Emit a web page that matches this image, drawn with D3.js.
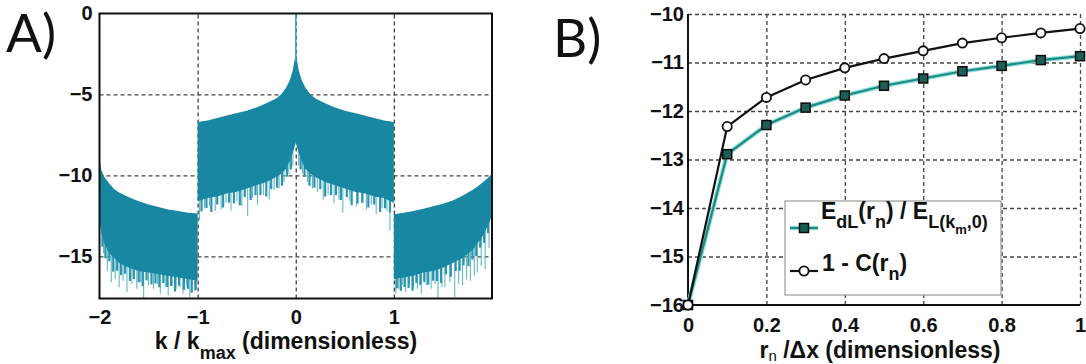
<!DOCTYPE html>
<html><head><meta charset="utf-8">
<script src="https://cdn.jsdelivr.net/npm/d3@7"></script>
<style>body{margin:0;background:#fff}svg{display:block}</style>
</head><body><svg id="c" width="1086" height="364"></svg>
<script>
// ---------- Panel A data (spectrum envelopes) ----------
const segLeftK     = [-2, -1.98, -1.95, -1.9, -1.85, -1.8, -1.7, -1.6, -1.5, -1.4, -1.3, -1.2, -1.1, -1.0];
const segLeftUpper = [-9.0, -9.7, -10.1, -10.5, -10.85, -11.05, -11.35, -11.6, -11.8, -11.95, -12.1, -12.2, -12.3, -12.35];
const segLeftLower = [-12.8, -13.6, -14.2, -14.8, -15.1, -15.4, -15.7, -15.9, -16.0, -16.1, -16.2, -16.3, -16.4, -16.5];

const segMidK     = [-1, -0.9, -0.8, -0.7, -0.6, -0.5, -0.4, -0.3, -0.2, -0.15, -0.1, -0.06, -0.03, -0.01, 0, 0.01, 0.03, 0.06, 0.1, 0.15, 0.2, 0.3, 0.4, 0.5, 0.6, 0.7, 0.8, 0.9, 1];
const segMidUpper = [-6.7, -6.6, -6.45, -6.3, -6.15, -6.0, -5.8, -5.55, -5.25, -5.0, -4.6, -4.1, -3.5, -2.8, -2.2, -2.8, -3.5, -4.1, -4.6, -5.0, -5.25, -5.55, -5.8, -6.0, -6.15, -6.3, -6.45, -6.6, -6.7];
const segMidLower = [-11.6, -11.4, -11.3, -11.1, -11.0, -10.8, -10.6, -10.4, -10.1, -9.9, -9.6, -9.1, -8.6, -8.2, -7.9, -8.2, -8.6, -9.1, -9.6, -9.9, -10.1, -10.4, -10.6, -10.8, -11.0, -11.1, -11.3, -11.4, -11.7];

const segRightK     = [1.0, 1.1, 1.2, 1.3, 1.4, 1.5, 1.6, 1.7, 1.8, 1.85, 1.9, 1.95, 2.0];
const segRightUpper = [-12.4, -12.3, -12.2, -12.05, -11.9, -11.75, -11.55, -11.25, -10.9, -10.7, -10.45, -10.2, -9.9];
const segRightLower = [-16.4, -16.3, -16.2, -16.0, -15.9, -15.7, -15.4, -15.1, -14.6, -14.2, -13.8, -13.2, -12.5];

const centralPeakK = 0, centralPeakValue = 0;

// deep light spikes
const spikeK   = [-1.96, -1.92, -1.88, -1.84, -1.8, -1.76, -1.72, -1.67, -1.62, -1.58, -1.55, -1.5, -1.45, -1.41, -1.38, -1.33, -1.3, -1.26, -1.22, -1.18, -1.15, -1.11, -1.08, -1.03,
                  -0.98, -0.93, -0.88, -0.82, -0.76, -0.71, -0.66, -0.6, -0.55, -0.49, -0.44, -0.39, -0.33, -0.27, -0.22, -0.17, -0.12, -0.07, -0.03,
                  0.03, 0.07, 0.12, 0.17, 0.22, 0.28, 0.33, 0.39, 0.44, 0.48, 0.55, 0.62, 0.67, 0.72, 0.77, 0.82, 0.88, 0.93, 0.96,
                  1.02, 1.05, 1.09, 1.12, 1.16, 1.2, 1.24, 1.28, 1.33, 1.38, 1.42, 1.45, 1.49, 1.52, 1.57, 1.62, 1.66, 1.7, 1.74, 1.78, 1.82, 1.85, 1.89, 1.93, 1.97];
const spikeMin = [-14.8, -15.9, -16.6, -16.4, -16.9, -16.5, -17.2, -16.7, -17.0, -16.6, -17.6, -16.8, -17.0, -16.7, -17.3, -16.9, -17.4, -16.8, -17.0, -16.9, -17.3, -16.8, -17.5, -17.1,
                  -12.75, -12.0, -11.9, -12.2, -12.1, -11.7, -12.2, -11.6, -11.9, -12.5, -11.4, -11.8, -11.2, -11.5, -10.9, -10.8, -10.4, -9.9, -9.4,
                  -9.4, -9.9, -10.4, -10.8, -11.0, -11.5, -11.2, -11.7, -11.5, -12.3, -11.6, -11.9, -11.7, -12.1, -11.8, -12.4, -12.0, -12.2, -13.4,
                  -17.3, -17.0, -16.8, -17.2, -16.7, -16.9, -17.0, -17.3, -16.8, -17.0, -16.7, -17.6, -16.9, -16.9, -16.6, -17.5, -16.7, -16.8, -16.4, -16.5, -16.2, -16.0, -15.6, -15.8, -14.5];
// short dark teeth along the lower edge (depth below envelope, in decades)
const toothK     = [-1.97, -1.94, -1.9, -1.86, -1.82, -1.78, -1.74, -1.69, -1.65, -1.6, -1.56, -1.52, -1.47, -1.43, -1.39, -1.35, -1.31, -1.27, -1.23, -1.19, -1.14, -1.1, -1.06, -1.02,
                    -0.96, -0.91, -0.86, -0.8, -0.74, -0.68, -0.63, -0.57, -0.52, -0.46, -0.41, -0.36, -0.3, -0.25, -0.19, -0.14, -0.09, -0.05,
                    0.05, 0.09, 0.14, 0.19, 0.25, 0.3, 0.36, 0.41, 0.46, 0.52, 0.57, 0.63, 0.68, 0.74, 0.8, 0.86, 0.91, 0.96,
                    1.03, 1.07, 1.11, 1.15, 1.19, 1.23, 1.27, 1.31, 1.35, 1.4, 1.44, 1.48, 1.53, 1.58, 1.63, 1.67, 1.71, 1.76, 1.8, 1.84, 1.88, 1.92, 1.96];
const toothDepth = [0.6, 0.8, 0.5, 0.9, 0.6, 0.7, 0.5, 0.8, 0.6, 0.7, 0.9, 0.5, 0.7, 0.6, 0.8, 0.5, 0.7, 0.6, 0.9, 0.5, 0.7, 0.6, 0.8, 0.6,
                    0.7, 0.6, 0.9, 0.5, 0.8, 0.6, 0.7, 0.9, 0.5, 0.8, 0.6, 0.7, 0.9, 0.6, 0.7, 0.8, 0.6, 0.7,
                    0.7, 0.6, 0.8, 0.7, 0.6, 0.9, 0.7, 0.6, 0.8, 0.5, 0.9, 0.7, 0.6, 0.8, 0.5, 0.9, 0.6, 0.7,
                    0.6, 0.8, 0.6, 0.7, 0.9, 0.5, 0.7, 0.6, 0.8, 0.6, 0.7, 0.9, 0.5, 0.8, 0.6, 0.7, 0.5, 0.8, 0.6, 0.7, 0.5, 0.6, 0.5];

const aXTicks = [-2, -1, 0, 1];
const aXGrid  = [-1, 0, 1];
const aYTicks = [0, -5, -10, -15];
const aYGrid  = [-5, -10, -15];

// ---------- Panel B data ----------
const rn        = [0, 0.1, 0.2, 0.3, 0.4, 0.5, 0.6, 0.7, 0.8, 0.9, 1.0];
const energyErr = [-16, -12.89, -12.29, -11.93, -11.68, -11.48, -11.33, -11.18, -11.07, -10.95, -10.87];
const oneMinusC = [-16, -12.32, -11.72, -11.36, -11.11, -10.92, -10.76, -10.60, -10.49, -10.39, -10.30];
const bXTicks = [0, 0.2, 0.4, 0.6, 0.8, 1];
const bXTickLabels = ["0", "0.2", "0.4", "0.6", "0.8", "1"];
const bYTicks = [-10, -11, -12, -13, -14, -15, -16];

// ---------- drawing ----------
const svg = d3.select("#c");
const FONT = "'Liberation Sans', Arial, Helvetica, sans-serif";
const teal = "#1787a2", tealLight = "#62b8ca";
const styleTicks = (sel, size) => sel.selectAll("text")
  .style("font-family", FONT).style("font-weight", "700").style("font-size", size + "px").attr("fill", "#111");

// Panel A scales
const xA = d3.scaleLinear().domain([-2, 2]).range([99.5, 492]);
const yA = d3.scaleLinear().domain([-17.6, 0]).range([298.5, 13.5]);
const gA = svg.append("g");

// grid A
gA.append("g").attr("transform", `translate(0,${yA(-17.6)})`)
  .call(d3.axisBottom(xA).tickValues(aXGrid).tickSize(-(yA(-17.6) - yA(0))).tickFormat(""))
  .call(g => g.select(".domain").remove())
  .selectAll("line").attr("stroke", "#444").attr("stroke-width", 1.3).attr("stroke-dasharray", "4,3");
gA.append("g").attr("transform", `translate(${xA(-2)},0)`)
  .call(d3.axisLeft(yA).tickValues(aYGrid).tickSize(-(xA(2) - xA(-2))).tickFormat(""))
  .call(g => g.select(".domain").remove())
  .selectAll("line").attr("stroke", "#444").attr("stroke-width", 1.3).attr("stroke-dasharray", "4,3");

// spectrum
const segs = [[segLeftK, segLeftUpper, segLeftLower], [segMidK, segMidUpper, segMidLower], [segRightK, segRightUpper, segRightLower]];
const lowerInterp = segs.map(s => d3.scaleLinear().domain(s[0]).range(s[2]).clamp(true));
const segIndex = k => (k < -1 ? 0 : (k <= 1 ? 1 : 2));
gA.append("g").selectAll("line").data(spikeK.map((k, i) => ({k, v: spikeMin[i]}))).join("line")
  .attr("x1", d => xA(d.k)).attr("x2", d => xA(d.k))
  .attr("y1", d => yA(lowerInterp[segIndex(d.k)](d.k) + 0.5)).attr("y2", d => yA(d.v))
  .attr("stroke", tealLight).attr("stroke-width", 1.1);
gA.append("g").selectAll("line").data(toothK.map((k, i) => ({k, v: toothDepth[i]}))).join("line")
  .attr("x1", d => xA(d.k)).attr("x2", d => xA(d.k))
  .attr("y1", d => yA(lowerInterp[segIndex(d.k)](d.k) + 0.5))
  .attr("y2", d => yA(lowerInterp[segIndex(d.k)](d.k) - d.v))
  .attr("stroke", "#2b95ad").attr("stroke-width", 2.2);
segs.forEach(s => {
  const pts = s[0].map((k, i) => ({k, u: s[1][i], l: s[2][i]}));
  gA.append("path").datum(pts)
    .attr("d", d3.area().x(d => xA(d.k)).y0(d => yA(d.l)).y1(d => yA(d.u)))
    .attr("fill", teal);
});
gA.append("line").attr("x1", xA(centralPeakK)).attr("x2", xA(centralPeakK))
  .attr("y1", yA(-3)).attr("y2", yA(centralPeakValue)).attr("stroke", "#3fa6bd").attr("stroke-width", 1.5);

// frame A
gA.append("rect").attr("x", xA(-2)).attr("y", yA(0)).attr("width", xA(2) - xA(-2)).attr("height", yA(-17.6) - yA(0))
  .attr("fill", "none").attr("stroke", "#111").attr("stroke-width", 2);

// axes A
const axAx = gA.append("g").attr("transform", `translate(0,${yA(-17.6)})`)
  .call(d3.axisBottom(xA).tickValues(aXTicks).tickSize(0).tickPadding(10).tickFormat(d3.format("d")));
axAx.select(".domain").remove();
const axAy = gA.append("g").attr("transform", `translate(${xA(-2)},0)`)
  .call(d3.axisLeft(yA).tickValues(aYTicks).tickSize(0).tickPadding(7).tickFormat(d3.format("d")));
axAy.select(".domain").remove();
styleTicks(axAx, 20); styleTicks(axAy, 20);
axAx.selectAll("text").attr("dy", "0.35em").attr("y", 18);

// A title
const tA = svg.append("text").attr("x", 286).attr("y", 349).attr("text-anchor", "middle")
  .style("font-family", FONT).style("font-weight", "700").style("font-size", "23px").attr("fill", "#111");
tA.append("tspan").text("k / k");
tA.append("tspan").attr("dy", 10).style("font-size", "18px").text("max");
tA.append("tspan").attr("dy", -10).text(" (dimensionless)");

svg.append("text").attr("x", 6).attr("y", 52).style("font-family", "Lato, 'Open Sans', sans-serif")
  .style("font-size", "53px").attr("fill", "#111").text("A)");

// ---------- Panel B ----------
const xB = d3.scaleLinear().domain([0, 1]).range([688, 1080]);
const yB = d3.scaleLinear().domain([-16, -10]).range([305, 14]);
const gB = svg.append("g");

gB.append("g").attr("transform", `translate(0,${yB(-16)})`)
  .call(d3.axisBottom(xB).tickValues(bXTicks.slice(1)).tickSize(-(yB(-16) - yB(-10))).tickFormat(""))
  .call(g => g.select(".domain").remove())
  .selectAll("line").attr("stroke", "#444").attr("stroke-width", 1.3).attr("stroke-dasharray", "4,3");
gB.append("g").attr("transform", `translate(${xB(0)},0)`)
  .call(d3.axisLeft(yB).tickValues(bYTicks.slice(0, 6)).tickSize(-(xB(1) - xB(0))).tickFormat(""))
  .call(g => g.select(".domain").remove())
  .selectAll("line").attr("stroke", "#444").attr("stroke-width", 1.3).attr("stroke-dasharray", "4,3");

gB.append("line").attr("x1", xB(0)).attr("x2", xB(0)).attr("y1", yB(-10)).attr("y2", yB(-16)).attr("stroke", "#111").attr("stroke-width", 2);
gB.append("line").attr("x1", xB(0)).attr("x2", xB(1)).attr("y1", yB(-16)).attr("y2", yB(-16)).attr("stroke", "#111").attr("stroke-width", 2);

const lineB = d3.line().x((d, i) => xB(rn[i])).y(d => yB(d));
gB.append("path").datum(energyErr).attr("d", lineB).attr("fill", "none").attr("stroke", "#8fe0dc").attr("stroke-width", 4.5);
gB.append("path").datum(energyErr).attr("d", lineB).attr("fill", "none").attr("stroke", "#1f8a80").attr("stroke-width", 2.2);
gB.append("path").datum(oneMinusC).attr("d", lineB).attr("fill", "none").attr("stroke", "#111").attr("stroke-width", 2.2);

gB.append("g").selectAll("rect").data(energyErr).join("rect")
  .attr("x", (d, i) => xB(rn[i]) - 4.5).attr("y", d => yB(d) - 4.5).attr("width", 9).attr("height", 9)
  .attr("fill", "#1d5d56").attr("stroke", "#0b0b0b").attr("stroke-width", 1.5);
gB.append("g").selectAll("circle").data(oneMinusC).join("circle")
  .attr("cx", (d, i) => xB(rn[i])).attr("cy", d => yB(d)).attr("r", 4.6)
  .attr("fill", "#fff").attr("stroke", "#111").attr("stroke-width", 1.8);

const axBx = gB.append("g").attr("transform", `translate(0,${yB(-16)})`)
  .call(d3.axisBottom(xB).tickValues(bXTicks).tickSize(0).tickPadding(10).tickFormat((d, i) => bXTickLabels[i]));
axBx.select(".domain").remove();
const axBy = gB.append("g").attr("transform", `translate(${xB(0)},0)`)
  .call(d3.axisLeft(yB).tickValues(bYTicks).tickSize(0).tickPadding(4).tickFormat(d3.format("d")));
axBy.select(".domain").remove();
styleTicks(axBx, 20); styleTicks(axBy, 20);
axBx.selectAll("text").attr("dy", "0.35em").attr("y", 20);

// legend
const lg = gB.append("g");
lg.append("rect").attr("x", 785).attr("y", 201).attr("width", 216).attr("height", 94).attr("fill", "#fff").attr("stroke", "#9a9a9a").attr("stroke-width", 1.2);
lg.append("line").attr("x1", 790).attr("x2", 818).attr("y1", 228).attr("y2", 228).attr("stroke", "#8fe0dc").attr("stroke-width", 4.5);
lg.append("line").attr("x1", 790).attr("x2", 818).attr("y1", 228).attr("y2", 228).attr("stroke", "#1f8a80").attr("stroke-width", 2.2);
lg.append("rect").attr("x", 799.5).attr("y", 223.5).attr("width", 9).attr("height", 9).attr("fill", "#1d5d56").attr("stroke", "#0b0b0b").attr("stroke-width", 1.5);
lg.append("line").attr("x1", 790).attr("x2", 818).attr("y1", 271).attr("y2", 271).attr("stroke", "#111").attr("stroke-width", 2.2);
lg.append("circle").attr("cx", 804).attr("cy", 271).attr("r", 4.6).attr("fill", "#fff").attr("stroke", "#111").attr("stroke-width", 1.8);

const l1 = lg.append("text").attr("x", 821).attr("y", 219).style("font-family", FONT).style("font-weight", "700").style("font-size", "23px").attr("fill", "#111");
l1.append("tspan").text("E");
l1.append("tspan").attr("dy", 9).style("font-size", "18px").text("dL");
l1.append("tspan").attr("dy", -9).text("(r");
l1.append("tspan").attr("dy", 9).style("font-size", "18px").text("n");
l1.append("tspan").attr("dy", -9).text(") / E");
l1.append("tspan").attr("dy", 9).style("font-size", "18px").text("L(k");
l1.append("tspan").attr("dy", 6).style("font-size", "13px").text("m");
l1.append("tspan").attr("dy", -6).style("font-size", "18px").text(",0)");

const l2 = lg.append("text").attr("x", 822).attr("y", 271).style("font-family", FONT).style("font-weight", "700").style("font-size", "23px").attr("fill", "#111");
l2.append("tspan").text("1 - C(r");
l2.append("tspan").attr("dy", 9).style("font-size", "18px").text("n");
l2.append("tspan").attr("dy", -9).text(")");

// B title
const tB = svg.append("text").attr("x", 880).attr("y", 358).attr("text-anchor", "middle")
  .style("font-family", FONT).style("font-weight", "700").style("font-size", "23px").attr("fill", "#111");
tB.append("tspan").text("r");
tB.append("tspan").attr("dy", 3).style("font-size", "15px").style("font-weight", "400").text("n");
tB.append("tspan").attr("dy", -3).text(" /\u0394x (dimensionless)");

svg.append("text").attr("x", 553).attr("y", 57).style("font-family", "Lato, 'Open Sans', sans-serif")
  .style("font-size", "53px").attr("fill", "#111").text("B)");
</script></body></html>
